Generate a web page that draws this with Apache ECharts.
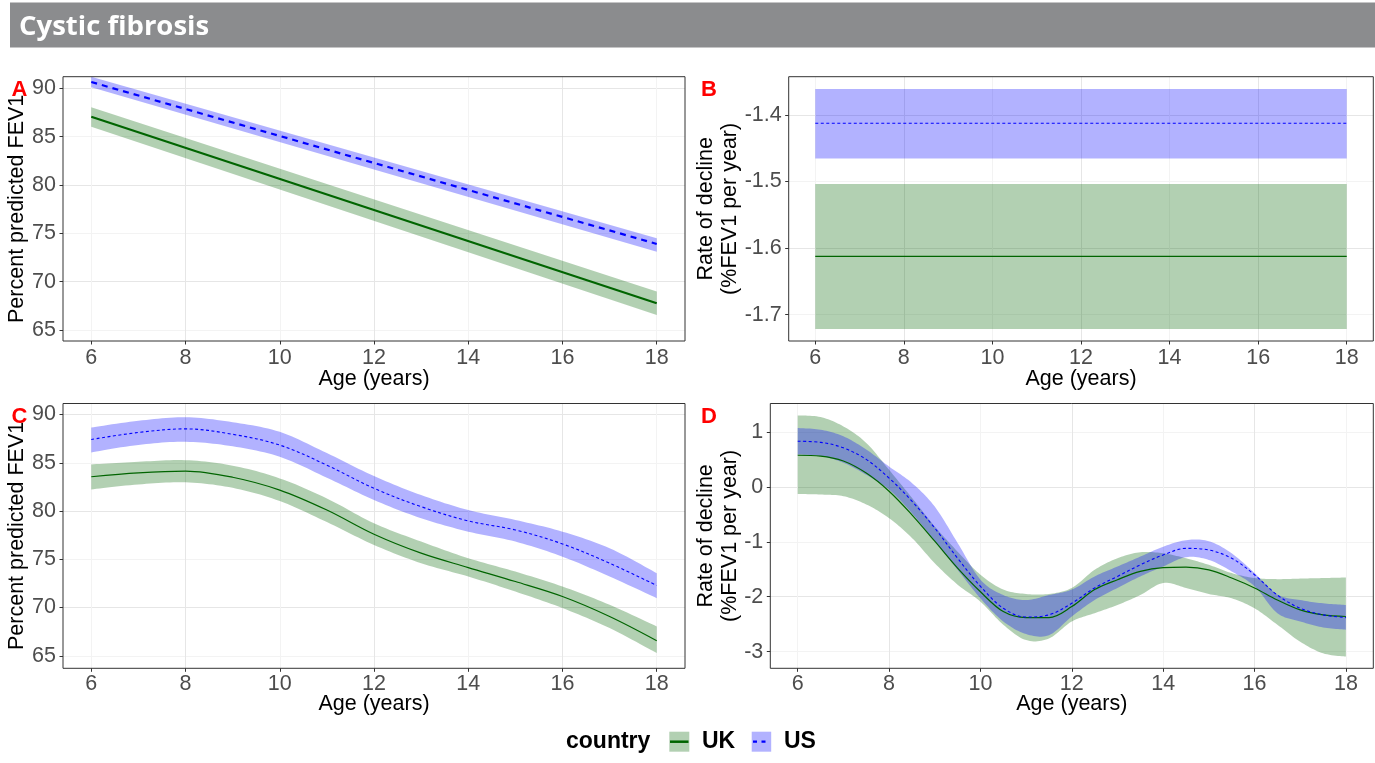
<!DOCTYPE html>
<html><head><meta charset="utf-8">
<script src="https://cdn.jsdelivr.net/npm/echarts@6/dist/echarts.min.js"></script>
<style>html,body{margin:0;padding:0;background:#fff}#c{width:1375px;height:763px}</style>
</head><body><div id="c"></div>
<script>
// ---------- Panel A : linear model, percent predicted FEV1 ----------
const agesA = [6, 18];
const ukA   = [87.06, 67.77];
const ukALo = [86.03, 66.56];
const ukAHi = [88.03, 68.97];
const usA   = [90.65, 73.90];
const usALo = [90.10, 73.10];
const usAHi = [91.20, 74.49];

// ---------- Panel B : linear model, rate of decline ----------
const agesB = [6, 18];
const ukB   = [-1.6125, -1.6125];
const ukBLo = [-1.7215, -1.7215];
const ukBHi = [-1.5036, -1.5036];
const usB   = [-1.4125, -1.4125];
const usBLo = [-1.4655, -1.4655];
const usBHi = [-1.3610, -1.3610];

// ---------- Panel C : spline model, percent predicted FEV1 ----------
const agesC = [6, 7, 8, 9, 10, 11, 12, 13, 14, 15, 16, 17, 18];
const ukC   = [83.55, 83.96, 84.14, 83.50, 82.17, 80.10, 77.59, 75.63, 74.14, 72.69, 71.14, 69.07, 66.56];
const ukCLo = [82.24, 82.75, 82.97, 82.40, 81.03, 78.85, 76.48, 74.59, 73.21, 71.65, 69.94, 67.87, 65.28];
const ukCHi = [84.83, 85.10, 85.27, 84.70, 83.38, 81.30, 78.73, 76.83, 75.11, 73.72, 72.17, 70.28, 68.04];
const usC   = [87.41, 88.14, 88.51, 87.95, 86.83, 84.75, 82.35, 80.45, 78.97, 78.04, 76.59, 74.59, 72.28];
const usCLo = [86.07, 86.85, 87.17, 86.70, 85.62, 83.45, 81.14, 79.25, 77.86, 76.83, 75.27, 73.21, 70.97];
const usCHi = [88.65, 89.35, 89.72, 89.20, 88.20, 86.00, 83.62, 81.65, 80.10, 79.07, 77.86, 76.14, 73.56];

// ---------- Panel D : spline model, rate of decline ----------
const agesD = [6, 6.5, 7, 7.5, 8, 8.5, 9, 9.5, 10, 10.5, 11, 11.5, 12, 12.5, 13, 13.5, 14, 14.5, 15, 15.5, 16, 16.5, 17, 17.5, 18];
const ukD   = [0.575, 0.56, 0.47, 0.25, -0.08, -0.51, -0.99, -1.48, -1.91, -2.27, -2.38, -2.38, -2.18, -1.87, -1.69, -1.54, -1.47, -1.46, -1.51, -1.66, -1.84, -2.06, -2.24, -2.33, -2.36];
const ukDLo = [-0.13, -0.14, -0.17, -0.32, -0.57, -0.93, -1.39, -1.78, -2.09, -2.51, -2.79, -2.76, -2.45, -2.30, -2.15, -1.97, -1.75, -1.84, -1.95, -2.03, -2.21, -2.51, -2.82, -3.03, -3.09];
const ukDHi = [1.30, 1.27, 1.10, 0.80, 0.31, -0.20, -0.72, -1.18, -1.60, -1.87, -1.95, -1.95, -1.84, -1.51, -1.30, -1.19, -1.21, -1.30, -1.42, -1.57, -1.66, -1.68, -1.67, -1.66, -1.65];
const usD   = [0.83, 0.81, 0.71, 0.50, 0.16, -0.26, -0.75, -1.30, -1.81, -2.21, -2.37, -2.33, -2.12, -1.84, -1.63, -1.42, -1.24, -1.12, -1.15, -1.30, -1.60, -1.97, -2.21, -2.33, -2.38];
const usDLo = [0.59, 0.56, 0.44, 0.22, -0.05, -0.48, -0.99, -1.51, -2.03, -2.45, -2.68, -2.70, -2.36, -2.06, -1.84, -1.63, -1.45, -1.28, -1.33, -1.54, -1.81, -2.30, -2.45, -2.56, -2.60];
const usDHi = [1.07, 1.04, 0.92, 0.68, 0.37, 0.07, -0.36, -1.02, -1.69, -1.97, -2.06, -1.97, -1.87, -1.63, -1.45, -1.27, -1.09, -0.97, -0.99, -1.21, -1.57, -1.96, -2.06, -2.12, -2.15];

// ---------- ticks / labels ----------
const xTicks = [6, 8, 10, 12, 14, 16, 18];
const yTicksFEV = [65, 70, 75, 80, 85, 90];
const yTicksB = [-1.7, -1.6, -1.5, -1.4];
const yTicksD = [-3, -2, -1, 0, 1];
const countries = ['UK', 'US'];
const panelTags = ['A', 'B', 'C', 'D'];
const titleText = 'Cystic fibrosis';
const xTitle = 'Age (years)';
const yTitleFEV = 'Percent predicted FEV1';
const yTitleRate = 'Rate of decline\n(%FEV1 per year)';

const FONT = '"Liberation Sans", Arial, Helvetica, sans-serif';
const UK_LINE = '#006400', US_LINE = '#0000ff';
const UK_FILL = 'rgba(0,100,0,0.3)', US_FILL = 'rgba(0,0,255,0.3)';
const MAJOR = '#e6e6e6', MINOR = '#f3f3f3';
const TICK_FS = 21.5, TITLE_FS = 21.5;

function catmull(p, seg) {
  if (p.length < 3) return p.slice();
  const out = [];
  for (let i = 0; i < p.length - 1; i++) {
    const p0 = p[Math.max(0, i - 1)], p1 = p[i], p2 = p[i + 1], p3 = p[Math.min(p.length - 1, i + 2)];
    for (let k = 0; k < seg; k++) {
      const t = k / seg, t2 = t * t, t3 = t2 * t;
      const f = (a, b, c, d) => 0.5 * (2 * b + (-a + c) * t + (2 * a - 5 * b + 4 * c - d) * t2 + (-a + 3 * b - 3 * c + d) * t3);
      out.push([f(p0[0], p1[0], p2[0], p3[0]), f(p0[1], p1[1], p2[1], p3[1])]);
    }
  }
  out.push(p[p.length - 1]);
  return out;
}

function band(name, gi, ages, lo, hi, fill) {
  return {
    type: 'custom', name, xAxisIndex: gi, yAxisIndex: gi, silent: true, z: 2,
    data: ages.map((a, i) => [a, lo[i], hi[i]]),
    renderItem: function (params, api) {
      if (params.dataIndexInside !== 0) return null;
      const n = ages.length;
      const top = [], bot = [];
      for (let j = 0; j < n; j++) {
        const x = api.value(0, j);
        top.push(api.coord([x, api.value(2, j)]));
        bot.push(api.coord([x, api.value(1, j)]));
      }
      const pts = catmull(top, 12).concat(catmull(bot, 12).reverse());
      return { type: 'polygon', shape: { points: pts }, style: { fill: fill, stroke: null } };
    }
  };
}

function line(name, gi, ages, vals, color, width, dash) {
  return {
    type: 'line', name, xAxisIndex: gi, yAxisIndex: gi, z: 3, silent: true,
    data: ages.map((a, i) => [a, vals[i]]),
    showSymbol: false, symbol: 'none', smooth: ages.length > 2 ? 0.35 : false,
    lineStyle: { color, width, type: dash || 'solid' }
  };
}

function xAx(gi, nameGap, margin) {
  return {
    type: 'value', gridIndex: gi, min: 5.4, max: 18.6, interval: 1,
    name: xTitle, nameLocation: 'middle', nameGap, nameMoveOverlap: false,
    nameTextStyle: { fontFamily: FONT, fontSize: TITLE_FS, color: '#000' },
    axisLine: { show: false, onZero: false },
    axisTick: { show: true, customValues: xTicks, length: 3.5, lineStyle: { color: '#333', width: 1 } },
    axisLabel: { customValues: xTicks, margin, fontFamily: FONT, fontSize: TICK_FS, color: '#4d4d4d' },
    splitLine: { show: true, lineStyle: { color: [MINOR, MAJOR], width: 1 } }
  };
}
function yAx(gi, min, max, interval, ticks, name, nameGap) {
  return {
    type: 'value', gridIndex: gi, min, max, interval,
    name, nameLocation: 'middle', nameGap, nameMoveOverlap: false,
    nameTextStyle: { fontFamily: FONT, fontSize: TITLE_FS, color: '#000', lineHeight: 24.5, align: 'center' },
    axisLine: { show: false, onZero: false },
    axisTick: { show: true, customValues: ticks, length: 3.5, lineStyle: { color: '#333', width: 1 } },
    axisLabel: { customValues: ticks, margin: 7, fontFamily: FONT, fontSize: TICK_FS, color: '#4d4d4d' },
    splitLine: { show: true, lineStyle: { color: [MINOR, MAJOR], width: 1 } }
  };
}

const gridBase = { show: true, borderColor: '#333', borderWidth: 1, backgroundColor: 'transparent', z: 10 };

const option = {
  animation: false,
  backgroundColor: '#fff',
  grid: [
    Object.assign({ left: 63, top: 76.7, width: 622, height: 264.3 }, gridBase),
    Object.assign({ left: 788.7, top: 76.7, width: 584.6, height: 264.3 }, gridBase),
    Object.assign({ left: 63, top: 403.5, width: 622, height: 264.8 }, gridBase),
    Object.assign({ left: 770.3, top: 403.5, width: 603, height: 264.8 }, gridBase)
  ],
  xAxis: [xAx(0, 27, 6), xAx(1, 27, 6), xAx(2, 25, 4.5), xAx(3, 25, 4.5)],
  yAxis: [
    yAx(0, 63.86, 91.2, 2.5, yTicksFEV, yTitleFEV, 34),
    yAx(1, -1.7395, -1.3426, 0.05, yTicksB, yTitleRate, 46),
    yAx(2, 63.7, 91.14, 2.5, yTicksFEV, yTitleFEV, 34),
    yAx(3, -3.303, 1.517, 0.5, yTicksD, yTitleRate, 27.5)
  ],
  series: [
    band('UK band A', 0, agesA, ukALo, ukAHi, UK_FILL),
    band('US band A', 0, agesA, usALo, usAHi, US_FILL),
    line(countries[0], 0, agesA, ukA, UK_LINE, 2.2),
    line(countries[1], 0, agesA, usA, US_LINE, 2.2, [6, 5]),

    band('UK band B', 1, agesB, ukBLo, ukBHi, UK_FILL),
    band('US band B', 1, agesB, usBLo, usBHi, US_FILL),
    line(countries[0], 1, agesB, ukB, UK_LINE, 1.2),
    line(countries[1], 1, agesB, usB, US_LINE, 1.1, [3, 2.5]),

    band('UK band C', 2, agesC, ukCLo, ukCHi, UK_FILL),
    band('US band C', 2, agesC, usCLo, usCHi, US_FILL),
    line(countries[0], 2, agesC, ukC, UK_LINE, 1.2),
    line(countries[1], 2, agesC, usC, US_LINE, 1.1, [3, 2.5]),

    band('UK band D', 3, agesD, ukDLo, ukDHi, UK_FILL),
    band('US band D', 3, agesD, usDLo, usDHi, US_FILL),
    line(countries[0], 3, agesD, ukD, UK_LINE, 1.2),
    line(countries[1], 3, agesD, usD, US_LINE, 1.1, [3, 2.5])
  ],
  graphic: [
    { type: 'rect', shape: { x: 10, y: 2.5, width: 1365, height: 45 }, style: { fill: '#8b8c8e' }, silent: true },
    { type: 'text', x: 19, y: 27.5, style: { text: titleText, fill: '#fff', fontFamily: '"Open Sans", sans-serif', fontWeight: 'bold', fontSize: 27.5, verticalAlign: 'middle', textVerticalAlign: 'middle' } },
    { type: 'text', x: 11.5, y: 90.4, z: 20, style: { text: panelTags[0], fill: '#ff0000', fontFamily: FONT, fontWeight: 'bold', fontSize: 22, verticalAlign: 'middle', textVerticalAlign: 'middle' } },
    { type: 'text', x: 701, y: 90.1, z: 20, style: { text: panelTags[1], fill: '#ff0000', fontFamily: FONT, fontWeight: 'bold', fontSize: 22, verticalAlign: 'middle', textVerticalAlign: 'middle' } },
    { type: 'text', x: 11.5, y: 416.7, z: 20, style: { text: panelTags[2], fill: '#ff0000', fontFamily: FONT, fontWeight: 'bold', fontSize: 22, verticalAlign: 'middle', textVerticalAlign: 'middle' } },
    { type: 'text', x: 701, y: 416.7, z: 20, style: { text: panelTags[3], fill: '#ff0000', fontFamily: FONT, fontWeight: 'bold', fontSize: 22, verticalAlign: 'middle', textVerticalAlign: 'middle' } },
    // legend
    { type: 'text', x: 566, y: 741.7, style: { text: 'country', fill: '#000', fontFamily: FONT, fontWeight: 'bold', fontSize: 23, verticalAlign: 'middle', textVerticalAlign: 'middle' } },
    { type: 'rect', shape: { x: 669.3, y: 731.7, width: 20, height: 20 }, style: { fill: UK_FILL } },
    { type: 'line', shape: { x1: 670, y1: 741.7, x2: 688.5, y2: 741.7 }, style: { stroke: UK_LINE, lineWidth: 2.5 } },
    { type: 'text', x: 702, y: 741.7, style: { text: countries[0], fill: '#000', fontFamily: FONT, fontWeight: 'bold', fontSize: 23, verticalAlign: 'middle', textVerticalAlign: 'middle' } },
    { type: 'rect', shape: { x: 751.7, y: 731.7, width: 19.5, height: 20 }, style: { fill: US_FILL } },
    { type: 'line', shape: { x1: 753, y1: 741.7, x2: 770, y2: 741.7 }, style: { stroke: US_LINE, lineWidth: 2.2, lineDash: [4, 4.5] } },
    { type: 'text', x: 784, y: 741.7, style: { text: countries[1], fill: '#000', fontFamily: FONT, fontWeight: 'bold', fontSize: 23, verticalAlign: 'middle', textVerticalAlign: 'middle' } }
  ]
};

const chart = echarts.init(document.getElementById('c'), null, { renderer: 'canvas' });
chart.setOption(option);
</script>
</body></html>
